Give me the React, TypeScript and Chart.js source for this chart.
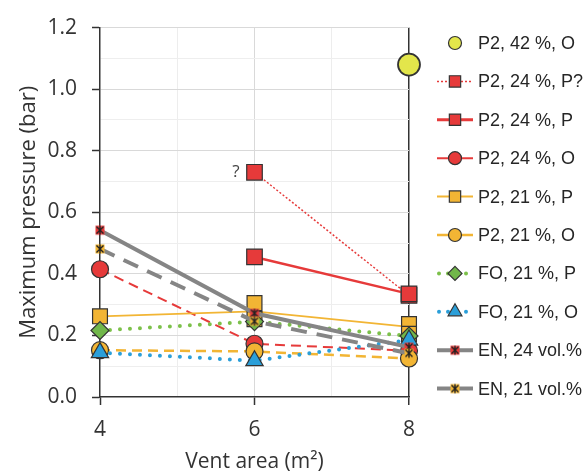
import React, { useEffect, useRef } from "react";
import { Chart, registerables } from "chart.js";

Chart.register(...registerables);

// ---- data ----
const ventAreas = [4, 6, 8];
const p2_42_O = [null, null, 1.08];
const p2_24_Pq = [null, 0.73, 0.33];
const p2_24_P = [null, 0.455, 0.335];
const p2_24_O = [0.415, 0.173, 0.15];
const p2_21_P_line = [0.262, 0.278, 0.228];
const p2_21_P_runX = [4, 6, 6, 8, 8];
const p2_21_P_runY = [0.262, 0.305, 0.253, 0.237, 0.205];
const p2_21_O = [0.152, 0.148, 0.125];
const fo_21_P = [0.216, 0.245, 0.198];
const fo_21_O = [0.144, 0.118, 0.185];
const en_24 = [0.542, 0.272, 0.162];
const en_21 = [0.481, 0.246, 0.142];
const yTicks = [0, 0.2, 0.4, 0.6, 0.8, 1.0, 1.2];
const xTicks = [4, 6, 8];
const legendLabels = [
  "P2, 42 %, O",
  "P2, 24 %, P?",
  "P2, 24 %, P",
  "P2, 24 %, O",
  "P2, 21 %, P",
  "P2, 21 %, O",
  "FO, 21 %, P",
  "FO, 21 %, O",
  "EN, 24 vol.%",
  "EN, 21 vol.%",
];

const RED = "#e63a3a";
const YEL = "#f2b534";
const LIME = "#e3e64b";
const GREEN = "#7cc04a";
const GREEN_FILL = "#71b74a";
const BLUE = "#2b9fd9";
const GRAY = "#858585";
const EDGE = "#333333";

const pts = (arr: (number | null)[]) =>
  ventAreas
    .map((x, i) => ({ x, y: arr[i] }))
    .filter((p) => p.y !== null) as { x: number; y: number }[];

function makeENMarker(fill: string) {
  const c = document.createElement("canvas");
  c.width = 12;
  c.height = 12;
  const g = c.getContext("2d")!;
  g.fillStyle = fill;
  g.fillRect(1.5, 1.5, 9, 9);
  g.strokeStyle = "#222";
  g.lineWidth = 1.4;
  g.beginPath();
  g.moveTo(2.5, 2.5);
  g.lineTo(9.5, 9.5);
  g.moveTo(9.5, 2.5);
  g.lineTo(2.5, 9.5);
  g.moveTo(6, 1.5);
  g.lineTo(6, 10.5);
  g.stroke();
  return c;
}

function drawMarker(
  ctx: CanvasRenderingContext2D,
  style: any,
  x: number,
  y: number,
  r: number,
  fill: string,
  stroke: string,
  bw: number
) {
  if (typeof style !== "string") {
    ctx.drawImage(style, x - style.width / 2, y - style.height / 2);
    return;
  }
  ctx.save();
  ctx.setLineDash([]);
  ctx.fillStyle = fill;
  ctx.strokeStyle = stroke;
  ctx.lineWidth = bw;
  ctx.beginPath();
  if (style === "circle") {
    ctx.arc(x, y, r, 0, Math.PI * 2);
  } else if (style === "rect") {
    const s = Math.SQRT1_2 * r;
    ctx.rect(x - s, y - s, 2 * s, 2 * s);
  } else if (style === "rectRot") {
    ctx.moveTo(x, y - r);
    ctx.lineTo(x + r, y);
    ctx.lineTo(x, y + r);
    ctx.lineTo(x - r, y);
    ctx.closePath();
  } else if (style === "triangle") {
    const a = (2 * Math.PI) / 3;
    ctx.moveTo(x, y - r);
    ctx.lineTo(x + Math.sin(a) * r, y - Math.cos(a) * r);
    ctx.lineTo(x + Math.sin(2 * a) * r, y - Math.cos(2 * a) * r);
    ctx.closePath();
  }
  ctx.fill();
  ctx.stroke();
  ctx.restore();
}

export default function App() {
  const ref = useRef<HTMLCanvasElement>(null);

  useEffect(() => {
    const enRed = makeENMarker(RED);
    const enYel = makeENMarker(YEL);

    const legendSpec = [
      { line: null, style: "circle", r: 6.5, fill: LIME },
      { line: { c: RED, w: 1.5, dash: [2, 2], cap: "butt" }, style: "rect", r: 8, fill: RED },
      { line: { c: RED, w: 3, dash: [], cap: "butt" }, style: "rect", r: 8, fill: RED },
      { line: { c: RED, w: 2, dash: [], cap: "butt" }, style: "circle", r: 6.5, fill: RED },
      { line: { c: YEL, w: 2, dash: [], cap: "butt" }, style: "rect", r: 8, fill: YEL },
      { line: { c: YEL, w: 2.5, dash: [], cap: "butt" }, style: "circle", r: 6.5, fill: YEL },
      { line: { c: GREEN, w: 4, dash: [0, 9], cap: "round" }, style: "rectRot", r: 7, fill: GREEN_FILL },
      { line: { c: BLUE, w: 4, dash: [0, 9], cap: "round" }, style: "triangle", r: 8, fill: BLUE },
      { line: { c: GRAY, w: 4, dash: [], cap: "butt" }, style: enRed, r: 6, fill: RED },
      { line: { c: GRAY, w: 4, dash: [14, 8], cap: "butt" }, style: enYel, r: 6, fill: YEL },
    ];

    const legendPlugin = {
      id: "customLegend",
      afterDraw(chart: any) {
        const ctx = chart.ctx as CanvasRenderingContext2D;
        const x0 = 437;
        const x1 = 473;
        const xm = 455;
        legendSpec.forEach((s: any, i: number) => {
          const y = 43 + i * 38.4;
          if (s.line) {
            ctx.save();
            ctx.strokeStyle = s.line.c;
            ctx.lineWidth = s.line.w;
            ctx.setLineDash(s.line.dash);
            ctx.lineCap = s.line.cap;
            ctx.beginPath();
            ctx.moveTo(x0 + (s.line.cap === "round" ? 2 : 0), y);
            ctx.lineTo(x1, y);
            ctx.stroke();
            ctx.restore();
          }
          drawMarker(ctx, s.style, xm, y, s.r, s.fill, EDGE, 1.2);
          ctx.save();
          ctx.fillStyle = "#262626";
          ctx.font = '18px "Liberation Sans", Arial, sans-serif';
          ctx.textBaseline = "middle";
          ctx.textAlign = "left";
          ctx.fillText(legendLabels[i], 478, y + 1);
          ctx.restore();
        });
        // "?" note beside the questionable point
        const xs = chart.scales.x;
        const ys = chart.scales.y;
        ctx.save();
        ctx.fillStyle = "#444";
        ctx.font = '17px "Open Sans", sans-serif';
        ctx.textAlign = "right";
        ctx.textBaseline = "middle";
        ctx.fillText("?", xs.getPixelForValue(ventAreas[1]) - 15, ys.getPixelForValue(p2_24_Pq[1] as number));
        ctx.restore();
      },
    };

    const base = { tension: 0, clip: false, pointBorderColor: EDGE, pointBorderWidth: 1.2, pointHoverRadius: 0 };

    const datasets: any[] = [
      { ...base, label: legendLabels[0], data: pts(p2_42_O), showLine: false, pointStyle: "circle", pointRadius: 11, pointBackgroundColor: LIME, pointBorderWidth: 1.8 },
      { ...base, label: legendLabels[1], data: pts(p2_24_Pq), borderColor: RED, borderWidth: 1.5, borderDash: [2, 2], pointStyle: "rect", pointRadius: 11, pointBackgroundColor: RED },
      { ...base, label: legendLabels[2], data: pts(p2_24_P), borderColor: RED, borderWidth: 2.5, pointStyle: "rect", pointRadius: 11, pointBackgroundColor: RED },
      { ...base, label: legendLabels[3], data: pts(p2_24_O), borderColor: RED, borderWidth: 2, borderDash: [10, 6], pointStyle: "circle", pointRadius: 8.5, pointBackgroundColor: RED },
      { ...base, label: legendLabels[4], data: pts(p2_21_P_line), borderColor: YEL, borderWidth: 1.8, pointRadius: 0 },
      { ...base, label: legendLabels[4] + " runs", data: p2_21_P_runX.map((x, i) => ({ x, y: p2_21_P_runY[i] })), showLine: false, pointStyle: "rect", pointRadius: 10.5, pointBackgroundColor: YEL },
      { ...base, label: legendLabels[5], data: pts(p2_21_O), borderColor: YEL, borderWidth: 2.5, borderDash: [10, 6], pointStyle: "circle", pointRadius: 8.5, pointBackgroundColor: YEL },
      { ...base, label: legendLabels[6], data: pts(fo_21_P), borderColor: GREEN, borderWidth: 4, borderDash: [0, 10], borderCapStyle: "round", pointStyle: "rectRot", pointRadius: 9, pointBackgroundColor: GREEN_FILL },
      { ...base, label: legendLabels[7], data: pts(fo_21_O), borderColor: BLUE, borderWidth: 4, borderDash: [0, 10], borderCapStyle: "round", pointStyle: "triangle", pointRadius: 10, pointBackgroundColor: BLUE },
      { ...base, label: legendLabels[8], data: pts(en_24), borderColor: GRAY, borderWidth: 4, pointStyle: enRed, pointRadius: 6 },
      { ...base, label: legendLabels[9], data: pts(en_21), borderColor: GRAY, borderWidth: 4, borderDash: [16, 10], pointStyle: enYel, pointRadius: 6 },
    ];
    datasets.forEach((d, i) => (d.order = 100 - i));

    const isMajorY = (v: number) => yTicks.some((t) => Math.abs(t - v) < 1e-6);
    const isMajorX = (v: number) => xTicks.includes(v);

    const chart = new Chart(ref.current!, {
      type: "line",
      data: { datasets },
      plugins: [legendPlugin],
      options: {
        animation: false,
        responsive: false,
        devicePixelRatio: 1,
        events: [],
        layout: { padding: { left: 0, right: 175, top: 22, bottom: 0 } },
        plugins: { legend: { display: false }, tooltip: { enabled: false } },
        scales: {
          x: {
            type: "linear",
            min: 4,
            max: 8,
            afterFit: (s: any) => {
              s.height = 78;
            },
            ticks: {
              stepSize: 1,
              autoSkip: false,
              maxRotation: 0,
              padding: 12,
              color: "#333",
              font: { family: '"Open Sans", sans-serif', size: 21 },
              callback: (v: any) => (isMajorX(Number(v)) ? String(v) : ""),
            },
            grid: {
              color: (c: any) => {
                const v = c.tick?.value;
                if (v === 8) return EDGE;
                if (v === 4) return "rgba(0,0,0,0)";
                if (v === 6) return "#d9d9d9";
                return "#ededed";
              },
              lineWidth: (c: any) => (c.tick?.value === 8 ? 1.5 : 1),
              tickColor: (c: any) => (isMajorX(c.tick?.value) ? EDGE : "rgba(0,0,0,0)"),
              tickLength: 8,
              tickWidth: 1.5,
            },
            border: { color: EDGE, width: 1.5 },
            title: {
              display: true,
              text: "Vent area (m²)",
              color: "#333",
              font: { family: '"Open Sans", sans-serif', size: 21 },
              padding: { top: 0, bottom: 0 },
            },
          },
          y: {
            type: "linear",
            min: 0,
            max: 1.2,
            afterFit: (s: any) => {
              s.width = 100;
            },
            ticks: {
              stepSize: 0.1,
              autoSkip: false,
              padding: 15,
              color: "#333",
              font: { family: '"Open Sans", sans-serif', size: 21 },
              callback: (v: any) => (isMajorY(Number(v)) ? Number(v).toFixed(1) : ""),
            },
            grid: {
              color: (c: any) => {
                const v = c.tick?.value;
                if (v === undefined || Math.abs(v) < 1e-6) return "rgba(0,0,0,0)";
                return isMajorY(v) ? "#d9d9d9" : "#eeeeee";
              },
              tickColor: (c: any) => (isMajorY(c.tick?.value) ? EDGE : "rgba(0,0,0,0)"),
              tickLength: 8,
              tickWidth: 1.5,
            },
            border: { color: EDGE, width: 1.5 },
            title: {
              display: true,
              text: "Maximum pressure (bar)",
              color: "#333",
              font: { family: '"Open Sans", sans-serif', size: 22 },
              padding: { top: 16, bottom: 0 },
            },
          },
        },
      },
    } as any);
    return () => chart.destroy();
  }, []);

  return (
    <div style={{ position: "fixed", left: 0, top: 0, width: 584, height: 475, background: "#fff" }}>
      <canvas ref={ref} width={584} height={475} style={{ display: "block" }} />
    </div>
  );
}
